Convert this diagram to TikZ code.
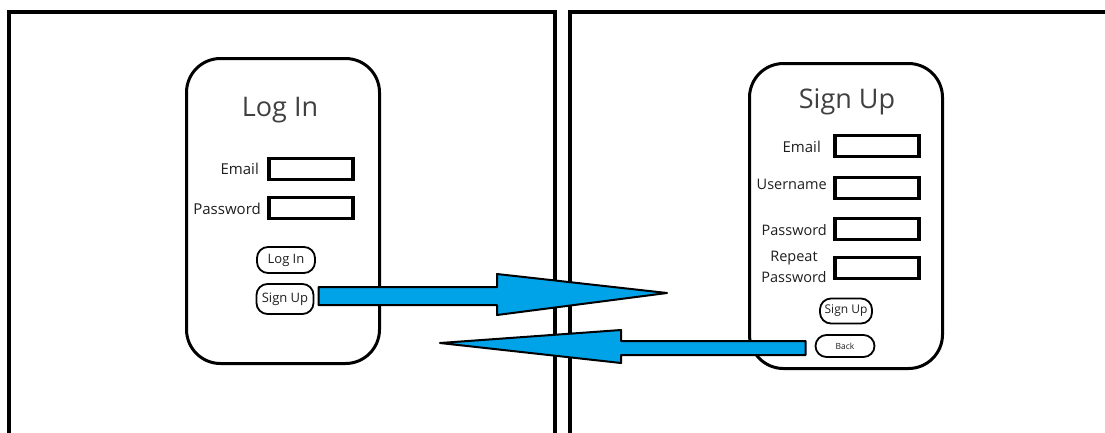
\documentclass[tikz,border=0pt]{standalone}
\usepackage{fontspec}
\setmainfont{Open Sans}
\usetikzlibrary{calc}
\definecolor{flowblue}{RGB}{0,162,232}
\definecolor{ink}{RGB}{30,30,30}
\tikzset{
  frameline/.style={line width=4pt, draw=black},
  card/.style={draw=black, line width=3pt, rounded corners=34pt, inner sep=0pt, outer sep=0pt},
  field/.style={draw=black, line width=3.5pt, minimum width=84pt, minimum height=21pt, inner sep=0pt, outer sep=0pt},
  lbl/.style={text=ink, inner sep=0pt, font=\fontsize{15}{21}\selectfont},
  title/.style={text=ink!85, inner sep=0pt, font=\fontsize{27}{30}\selectfont},
  btn/.style={draw=black, line width=1.8pt, rounded corners=11pt, inner sep=0pt, outer sep=0pt, text=ink, font=\fontsize{13}{15}\selectfont},
  flow/.style={draw=black, line width=2pt, fill=flowblue, line join=round}
}
\begin{document}
\begin{tikzpicture}[x=1pt, y=-1pt]
\useasboundingbox (0,0) rectangle (1105,432);
\clip (0,0) rectangle (1105,432);
% frames
\draw[frameline] (9,445) -- (9,12) -- (555,12) -- (555,445);
\draw[frameline] (570,445) -- (570,12) -- (1115,12);
% login card
\node[card, minimum width=193pt, minimum height=305pt] (login) at (283,211) {};
\node[title] (lt) at (280,110) {Log In};
\node[lbl, anchor=east] (le) at (259,169) {Email};
\node[field] (lef) at (311,169) {};
\node[lbl, anchor=east] (lp) at (261,209) {Password};
\node[field] (lpf) at (311,208) {};
\node[btn, minimum width=58pt, minimum height=26pt] (li) at (286,260) {Log In};
\node[btn, minimum width=57pt, minimum height=30pt] (su) at (285,299) {Sign Up};
% signup card
\node[card, minimum width=193pt, minimum height=305pt] (signup) at (846,216) {};
\node[title] (st) at (847,102) {Sign Up};
\node[lbl, anchor=east] (se) at (821,147) {Email};
\node[field] (sef) at (877,146) {};
\node[lbl, anchor=east, font=\fontsize{14.5}{21}\selectfont] (sn) at (827,184) {Username};
\node[field] (snf) at (877,188) {};
\node[lbl, anchor=east, font=\fontsize{14.5}{21}\selectfont] (sp) at (827,230) {Password};
\node[field] (spf) at (877,229) {};
\node[lbl, align=center, font=\fontsize{14.5}{21}\selectfont] (sr) at (794,267) {Repeat\\Password};
\node[field] (srf) at (877,268) {};
\node[btn, minimum width=52pt, minimum height=25pt, font=\fontsize{12}{14}\selectfont] (ss) at (846,311) {Sign Up};
\node[btn, minimum width=59pt, minimum height=22pt, font=\fontsize{8.5}{10}\selectfont] (bk) at (845,346) {Back};
% arrows
\coordinate (t1) at (667,293);
\coordinate (t2) at (440,343);
\draw[flow] ($(su.east)+(5,-12)$) -- ($(t1)+(-170,-6)$) -- ($(t1)+(-170,-19)$) -- (t1)
  -- ($(t1)+(-170,22)$) -- ($(t1)+(-170,12)$) -- ($(su.east)+(5,6)$) -- cycle;
\draw[flow] ($(bk.west)+(-10,-5)$) -- ($(t2)+(181,-2)$) -- ($(t2)+(181,-13)$) -- (t2)
  -- ($(t2)+(181,20)$) -- ($(t2)+(181,12)$) -- ($(bk.west)+(-10,9)$) -- cycle;
\end{tikzpicture}
\end{document}
